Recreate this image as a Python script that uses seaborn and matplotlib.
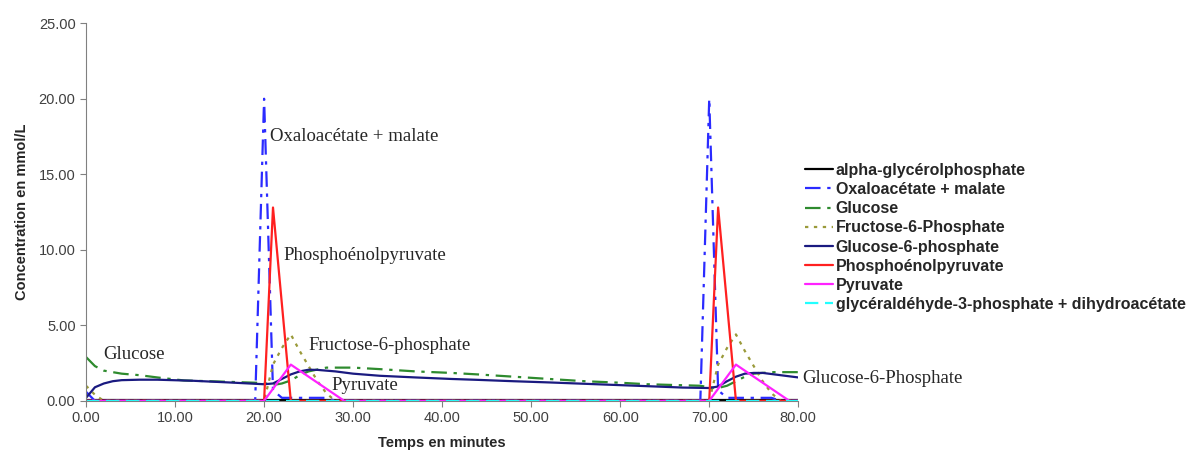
import matplotlib
matplotlib.use("Agg")
import matplotlib.pyplot as plt
import seaborn as sns

# --- data (time in minutes, concentration in mmol/L) ---
alpha_t = [0, 80]
alpha_v = [0.03, 0.03]

oxalo_t = [0, 1, 19, 20, 21, 22, 27, 28, 69, 70, 71, 72, 77, 78, 80]
oxalo_v = [0.6, 0, 0, 20.0, 0.7, 0.2, 0.2, 0, 0, 20.0, 0.7, 0.2, 0.2, 0, 0]

glucose_t = [0, 1, 2, 4, 6, 8, 11, 15, 20, 21, 22, 23, 24, 25, 27, 30, 33, 37,
             41, 44, 48, 52, 56, 60, 63, 66, 69, 70, 71, 72, 73, 74, 75, 77, 80]
glucose_v = [2.9, 2.3, 2.0, 1.8, 1.7, 1.55, 1.35, 1.28, 1.18, 1.05, 1.15, 1.35,
             1.7, 1.95, 2.2, 2.2, 2.1, 1.95, 1.85, 1.75, 1.6, 1.45, 1.3, 1.2,
             1.1, 1.05, 1.0, 0.9, 0.85, 1.0, 1.3, 1.6, 1.8, 1.9, 1.9]

f6p_t = [0, 1, 2, 20, 21, 22, 23, 24, 25, 26, 27, 28,
         70, 71, 72, 73, 74, 75, 76, 77, 78, 80]
f6p_v = [1.0, 0.4, 0, 0, 2.4, 3.5, 4.4, 3.3, 2.3, 1.3, 0.5, 0,
         0, 2.4, 3.5, 4.4, 3.3, 2.3, 1.3, 0.5, 0, 0]

g6p_t = [0, 1, 2, 3, 4, 6, 8, 12, 16, 20, 21, 22, 23, 24, 25, 26, 28, 30, 33,
         37, 41, 44, 48, 52, 56, 60, 64, 67, 70, 71, 72, 73, 74, 75, 76, 78, 80]
g6p_v = [0.2, 0.9, 1.15, 1.3, 1.37, 1.4, 1.4, 1.33, 1.22, 1.1, 1.15, 1.45, 1.75,
         1.95, 2.06, 2.05, 1.95, 1.8, 1.66, 1.55, 1.45, 1.39, 1.3, 1.22, 1.13,
         1.04, 0.95, 0.88, 0.85, 0.95, 1.3, 1.6, 1.8, 1.85, 1.85, 1.7, 1.55]

pep_t = [0, 20, 21, 23, 70, 71, 73, 80]
pep_v = [0, 0, 12.8, 0, 0, 12.8, 0, 0]

pyruvate_t = [0, 20, 23, 29, 70, 73, 79, 80]
pyruvate_v = [0, 0, 2.4, 0, 0, 2.4, 0, 0]

g3p_t = [0, 80]
g3p_v = [0, 0]

series = [
    ("alpha-glycérolphosphate", alpha_t, alpha_v, "black", "-"),
    ("Oxaloacétate + malate", oxalo_t, oxalo_v, "#2b2bff", (0, (7, 3, 1.5, 3))),
    ("Glucose", glucose_t, glucose_v, "#2e8b2e", (0, (7, 3, 1.5, 3))),
    ("Fructose-6-Phosphate", f6p_t, f6p_v, "#9a9a3a", (0, (1.5, 2.5))),
    ("Glucose-6-phosphate", g6p_t, g6p_v, "#1a1a80", "-"),
    ("Phosphoénolpyruvate", pep_t, pep_v, "#ff2020", "-"),
    ("Pyruvate", pyruvate_t, pyruvate_v, "#ff22ff", "-"),
    ("glycéraldéhyde-3-phosphate + dihydroacétate", g3p_t, g3p_v, "#22ffff", (0, (6, 3))),
]

annotations = [
    ("Oxaloacétate + malate", 20.7, 17.5),
    ("Phosphoénolpyruvate", 22.2, 9.6),
    ("Fructose-6-phosphate", 25.0, 3.65),
    ("Glucose", 1.9, 3.05),
    ("Pyruvate", 27.6, 1.0),
    ("Glucose-6-Phosphate", 80.4, 1.46),
]

sns.set_style("ticks")
plt.rcParams['font.family'] = ['Liberation Sans', 'DejaVu Sans']

fig = plt.figure(figsize=(11.95, 4.55), dpi=100)
ax = fig.add_axes([0.072, 0.119, 0.596, 0.830])

for name, t, v, color, ls in series:
    sns.lineplot(x=t, y=v, ax=ax, color=color, linestyle=ls, linewidth=1.6,
                 estimator=None, sort=False, label=name)

for text, x, y in annotations:
    ax.text(x, y, text, fontsize=13.5, family=['Liberation Serif', 'DejaVu Serif'],
            va='center', ha='left', clip_on=False)

ax.set_xlim(0, 80)
ax.set_ylim(0, 25)
ax.set_xticks(range(0, 81, 10))
ax.set_yticks(range(0, 26, 5))
ax.set_xticklabels([f"{v:.2f}" for v in range(0, 81, 10)])
ax.set_yticklabels([f"{v:.2f}" for v in range(0, 26, 5)])
ax.tick_params(colors='#808080', labelcolor='#404040', labelsize=10.5, length=4)
for side in ['left', 'bottom']:
    ax.spines[side].set_color('#808080')
sns.despine(ax=ax)

ax.set_xlabel("Temps en minutes", fontsize=10.5, fontweight='bold', labelpad=8)
ax.set_ylabel("Concentration en mmol/L", fontsize=10.5, fontweight='bold', labelpad=7)

handles, labels = ax.get_legend_handles_labels()
ax.get_legend().remove()
fig.legend(handles, labels, loc='upper left', bbox_to_anchor=(0.674, 0.642),
           frameon=False, prop={'weight': 'bold', 'size': 11.5},
           handlelength=1.75, handletextpad=0.15, labelspacing=0.26,
           borderaxespad=0, borderpad=0)

fig.savefig("out.png", dpi=100)
